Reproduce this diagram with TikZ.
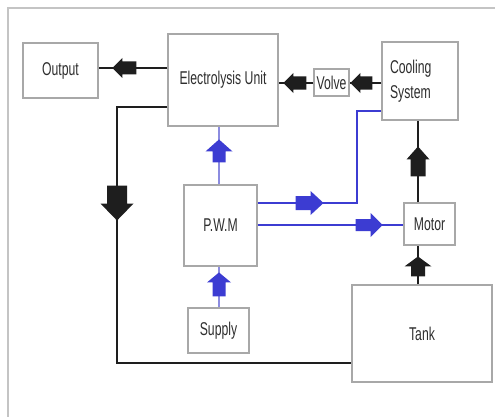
\documentclass[tikz,border=0pt]{standalone}
\usepackage{fontspec}
\setmainfont{Liberation Sans}
\usepackage{graphicx}
\usetikzlibrary{decorations.markings}

\definecolor{boxgray}{HTML}{A8A8A8}
\definecolor{framegray}{HTML}{C4C4C4}
\definecolor{txtgray}{HTML}{2E2E2E}
\definecolor{linkblue}{HTML}{3C3CD2}
\definecolor{paleblue}{HTML}{8C8CE0}
\definecolor{linkblack}{HTML}{1E1E1E}

% condensed label text
\newcommand{\lbl}[1]{\scalebox{0.66}[1]{#1}}

\tikzset{
  blockbox/.style={draw=boxgray, line width=1.1pt, fill=white, inner sep=3pt,
    text=txtgray, font=\fontsize{18.5}{25}\selectfont},
  darkline/.style={draw=linkblack, line width=2pt},
  blueline/.style={draw=linkblue, line width=1.6pt},
  paleline/.style={draw=paleblue, line width=2.2pt},
  % fat arrow placed along a connector:
  % #1 distance of the tip from the start, #2 total length, #3 head length,
  % #4 head width, #5 stem width, #6 fill colour
  fatarrow/.style n args={6}{postaction={decorate, decoration={markings,
    mark=at position #1pt with {\fill[#6] (0pt,0pt) -- (-#3pt,#4pt/2) -- (-#3pt,#5pt/2)
      -- (-#2pt,#5pt/2) -- (-#2pt,-#5pt/2) -- (-#3pt,-#5pt/2) -- (-#3pt,-#4pt/2) -- cycle;}}}},
}

\begin{document}
\begin{tikzpicture}[x=1pt, y=1pt]
\useasboundingbox (0,0) rectangle (495,416);
\fill[white] (0,0) rectangle (495,416);

% outer frame
\draw[framegray, line width=1.5pt] (8,-2) -- (8,408) -- (497,408);

% blocks
\node[blockbox, minimum width=75, minimum height=55] (Out) at (60.5,345.5) {\lbl{Output}};
\node[blockbox, minimum width=110, minimum height=92] (Elec) at (223,336) {\raisebox{3pt}{\lbl{Electrolysis Unit}}};
\node[blockbox, minimum width=76, minimum height=78, align=left, text width=60] (Cool) at (420,335) {\lbl{Cooling}\\\lbl{System}};
\node[blockbox, minimum width=35, minimum height=27, inner sep=1pt] (Volve) at (331.5,333.5) {\lbl{Volve}};
\node[blockbox, minimum width=73, minimum height=81] (PWM) at (220.5,190.5) {\lbl{P.W.M}};
\node[blockbox, minimum width=61, minimum height=45] (Sup) at (218.5,85.5) {\lbl{Supply}};
\node[blockbox, minimum width=51, minimum height=42, inner sep=1pt] (Mot) at (429.5,192) {\lbl{Motor}};
\node[blockbox, minimum width=140, minimum height=97] (Tank) at (422,82.5) {\lbl{Tank}};

% black connectors
\path[darkline, fatarrow={55}{24}{10}{20}{13}{linkblack}]
  (Elec.west |- 0,348) -- (Out.east |- 0,348);
\path[darkline, fatarrow={30}{23}{10}{20}{13}{linkblack}]
  (Volve.west |- 0,333) -- (Elec.east |- 0,333);
\path[darkline, fatarrow={31}{22}{10}{20}{13}{linkblack}]
  (Cool.west |- 0,333) -- (Volve.east |- 0,333);
\path[darkline, fatarrow={28}{20}{10}{27}{14}{linkblack}]
  (418,0 |- Tank.north) -- (418,0 |- Mot.south);
\path[darkline, fatarrow={56}{30}{13}{23}{15}{linkblack}]
  (418,0 |- Mot.north) -- (418,0 |- Cool.south);
\path[darkline, fatarrow={164}{35}{17}{33}{20}{linkblack}]
  (Elec.west |- 0,309) -| (117,53) -- (Tank.west |- 0,53);

% blue connectors
\path[paleline, fatarrow={45}{23}{12}{27}{13}{linkblue}]
  (219,0 |- PWM.north) -- (219,0 |- Elec.south);
\path[paleline, fatarrow={35}{24}{10}{24}{13}{linkblue}]
  (219,0 |- Sup.north) -- (219,0 |- PWM.south);
\path[blueline, fatarrow={66}{28}{13}{24}{14}{linkblue}]
  (PWM.east |- 0,213) -- (357,213) |- (Cool.west |- 0,305);
\path[blueline, fatarrow={125}{27}{12}{24}{12}{linkblue}]
  (PWM.east |- 0,191) -- (Mot.west |- 0,191);

\end{tikzpicture}
\end{document}
